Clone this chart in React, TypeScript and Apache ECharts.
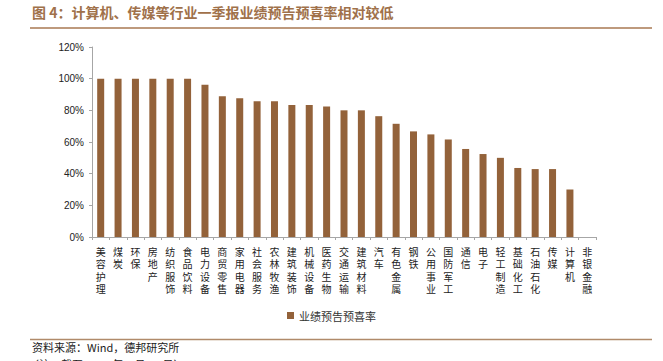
import React, { useEffect, useRef } from "react";
import * as echarts from "echarts";

const categories = [
  "美容护理", "煤炭", "环保", "房地产", "纺织服饰", "食品饮料", "电力设备", "商贸零售",
  "家用电器", "社会服务", "农林牧渔", "建筑装饰", "机械设备", "医药生物", "交通运输",
  "建筑材料", "汽车", "有色金属", "钢铁", "公用事业", "国防军工", "通信", "电子",
  "轻工制造", "基础化工", "石油石化", "传媒", "计算机", "非银金融",
];
const seriesName = "业绩预告预喜率";
const values = [
  100, 100, 100, 100, 100, 100, 96.2, 88.9, 87.6, 85.7, 85.7, 83.4, 83.4, 82.4, 80.0,
  80.0, 76.3, 71.5, 66.7, 64.8, 61.6, 55.6, 52.4, 50.0, 43.6, 42.9, 42.9, 30.0, 0,
];
const yTicks = { min: 0, max: 120, interval: 20 };
const titleText = "图 4：计算机、传媒等行业一季报业绩预告预喜率相对较低";
const sourceText = "资料来源：Wind，德邦研究所";
const noteText = "（注：截至 2023 年 4 月 21 日）";

export default function App() {
  const ref = useRef<HTMLDivElement>(null);
  useEffect(() => {
    if (!ref.current) return;
    const chart = echarts.init(ref.current, undefined, { renderer: "svg" });
    const brown = "#93623a";
    chart.setOption({
      animation: false,
      backgroundColor: "#ffffff",
      grid: { left: 92, right: 67, top: 47, bottom: 124 },
      legend: {
        data: [seriesName],
        bottom: 35,
        left: "center",
        icon: "rect",
        itemWidth: 7,
        itemHeight: 7,
        itemGap: 4,
        textStyle: { fontSize: 11, color: "#333", fontFamily: "Noto Sans CJK SC" },
      },
      xAxis: {
        type: "category",
        data: categories,
        boundaryGap: true,
        axisLine: { lineStyle: { color: "#a6a6a6", width: 1 } },
        axisTick: { show: true, length: 3, lineStyle: { color: "#a6a6a6" } },
        axisLabel: {
          interval: 0,
          margin: 8,
          fontSize: 10,
          lineHeight: 12.5,
          color: "#222",
          fontFamily: "Noto Sans CJK SC",
          formatter: (v: string) => v.split("").join("\n"),
        },
      },
      yAxis: {
        type: "value",
        min: yTicks.min,
        max: yTicks.max,
        interval: yTicks.interval,
        axisLine: { show: true, lineStyle: { color: "#a6a6a6" } },
        axisTick: { show: true, length: 3, lineStyle: { color: "#a6a6a6" } },
        splitLine: { show: false },
        axisLabel: {
          formatter: "{value}%",
          fontSize: 10,
          color: "#222",
          margin: 8,
          fontFamily: "Liberation Sans",
        },
      },
      series: [
        {
          name: seriesName,
          type: "bar",
          data: values,
          barWidth: 7,
          itemStyle: { color: brown },
        },
      ],
      graphic: [
        {
          type: "text",
          left: 32,
          top: 5,
          style: {
            text: titleText,
            fontSize: 14,
            fontWeight: "bold",
            fill: "#a0714a",
            fontFamily: "Noto Sans CJK SC",
          },
        },
        {
          type: "line",
          shape: { x1: 30, y1: 28, x2: 652, y2: 28 },
          style: { stroke: "#a87852", lineWidth: 1.5 },
        },
        {
          type: "line",
          shape: { x1: 30, y1: 339.5, x2: 652, y2: 339.5 },
          style: { stroke: "#b08a6a", lineWidth: 1.5 },
        },
        {
          type: "text",
          left: 32,
          top: 341,
          style: {
            text: sourceText,
            fontSize: 11,
            fill: "#222",
            fontFamily: "Noto Sans CJK SC",
          },
        },
        {
          type: "text",
          left: 28,
          top: 358,
          style: {
            text: noteText,
            fontSize: 11,
            fill: "#222",
            fontFamily: "Noto Sans CJK SC",
          },
        },
      ],
    });
    return () => chart.dispose();
  }, []);
  return (
    <div
      ref={ref}
      style={{ position: "fixed", left: 0, top: 0, width: 663, height: 361, overflow: "hidden" }}
    />
  );
}
